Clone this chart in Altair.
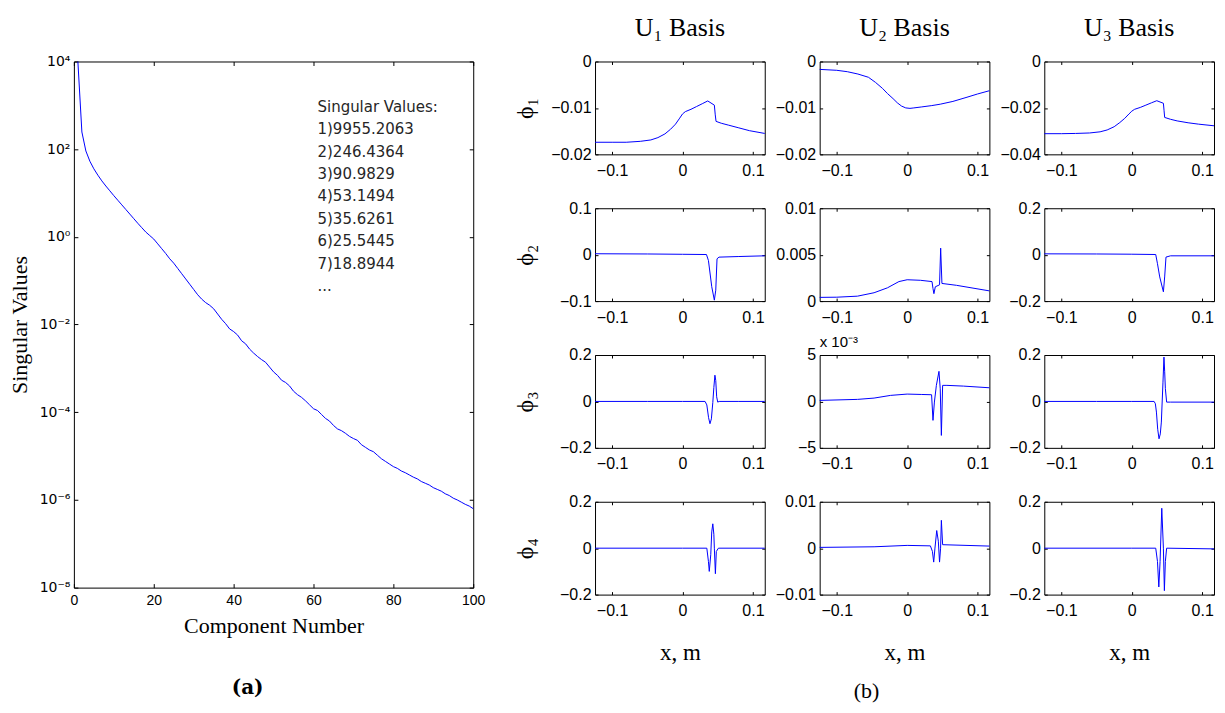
import math
import altair as alt
import pandas as pd

SANS = "Liberation Sans"
SERIF = "Liberation Serif"
BLUE = "#0000ff"

# ---------------- (a) singular values ----------------
sv_top = [9955.2063, 246.4364, 90.9829, 53.1494, 35.6261, 25.5445, 18.8944]
# components 8..100 (log10 of value)
sv_tail_exp = [
    1.16, 1.05, 0.94, 0.835, 0.73, 0.625, 0.52, 0.415, 0.31, 0.21,
    0.11, 0.03, -0.05, -0.16, -0.27, -0.38, -0.5, -0.6, -0.72, -0.84,
    -0.96, -1.08, -1.2, -1.32, -1.42, -1.5, -1.56, -1.64, -1.76, -1.88,
    -1.98, -2.1, -2.16, -2.24, -2.37, -2.44, -2.56, -2.65, -2.73, -2.8,
    -2.86, -2.97, -3.08, -3.16, -3.27, -3.32, -3.4, -3.52, -3.6, -3.66,
    -3.74, -3.83, -3.92, -3.96, -4.05, -4.14, -4.2, -4.3, -4.38, -4.42,
    -4.48, -4.55, -4.6, -4.64, -4.74, -4.8, -4.86, -4.9, -4.98, -5.06,
    -5.12, -5.18, -5.24, -5.28, -5.34, -5.38, -5.43, -5.48, -5.52, -5.58,
    -5.62, -5.66, -5.72, -5.76, -5.8, -5.86, -5.9, -5.96, -6.0, -6.05,
    -6.1, -6.14, -6.2,
]
sv_x_ticks = [0, 20, 40, 60, 80, 100]
sv_y_ticks = [1e-8, 1e-6, 1e-4, 1e-2, 1e0, 1e2, 1e4]
sv_y_labels = ["10⁻⁸", "10⁻⁶", "10⁻⁴", "10⁻²", "10⁰", "10²", "10⁴"]

# ---------------- (b) basis functions ----------------
x_ticks = [-0.1, 0.0, 0.1]
XDOM = [-0.1243, 0.1168]
col_titles = ["U₁ Basis", "U₂ Basis", "U₃ Basis"]
row_titles = ["ϕ₁", "ϕ₂", "ϕ₃", "ϕ₄"]

phi1_u1_x = [-0.1243, -0.1, -0.08, -0.06, -0.045, -0.035, -0.025, -0.017, -0.01, -0.004, 0.0, 0.004,
             0.012, 0.02, 0.028, 0.0358, 0.0452, 0.0465, 0.0476, 0.055, 0.065, 0.08, 0.095, 0.1168]
phi1_u1_y = [-0.0174, -0.0174, -0.0174, -0.0172, -0.0169, -0.0164, -0.0156, -0.0146, -0.0135, -0.0122, -0.0113, -0.0108,
             -0.0103, -0.0097, -0.0091, -0.0085, -0.0094, -0.0115, -0.0129, -0.0133, -0.0137, -0.0143, -0.0149, -0.0155]

phi1_u2_x = [-0.1243, -0.1, -0.085, -0.07, -0.055, -0.045, -0.035, -0.028, -0.02, -0.014, -0.008, -0.002,
             0.004, 0.0095, 0.02, 0.035, 0.047, 0.065, 0.085, 0.1, 0.1168]
phi1_u2_y = [-0.0017, -0.0019, -0.0022, -0.0027, -0.0034, -0.0045, -0.0058, -0.0069, -0.0080, -0.0089, -0.0096, -0.0100,
             -0.0101, -0.0100, -0.0098, -0.0095, -0.0092, -0.0086, -0.0077, -0.0070, -0.0063]

phi1_u3_x = [-0.1243, -0.1, -0.08, -0.06, -0.045, -0.035, -0.025, -0.017, -0.01, -0.004, 0.0, 0.004,
             0.012, 0.02, 0.028, 0.0355, 0.0449, 0.0458, 0.0467, 0.055, 0.0645, 0.08, 0.095, 0.1168]
phi1_u3_y = [-0.0311, -0.0311, -0.031, -0.0308, -0.0303, -0.0295, -0.0281, -0.0263, -0.0245, -0.0226, -0.0214, -0.0206,
             -0.0198, -0.0188, -0.0178, -0.0169, -0.018, -0.021, -0.0241, -0.0249, -0.0256, -0.0264, -0.027, -0.0277]

phi2_u1_x = [-0.1243, -0.05, 0.0, 0.034, 0.0368, 0.0415, 0.0452, 0.0472, 0.049, 0.0518, 0.08, 0.1168]
phi2_u1_y = [0.002, 0.0015, 0.0008, 0.0003, -0.0125, -0.069, -0.098, -0.0765, -0.0089, -0.0053, -0.004, -0.0025]

phi2_u2_x = [-0.1243, -0.1, -0.0706, -0.047, -0.028, -0.0117, 0.0, 0.0188, 0.0353, 0.0367, 0.038, 0.04,
             0.046, 0.0476, 0.0494, 0.07, 0.1168]
phi2_u2_y = [0.0004, 0.00042, 0.00053, 0.0009, 0.00143, 0.0021, 0.0023, 0.00224, 0.0021, 0.00135, 0.0008, 0.00154,
             0.00175, 0.0057, 0.0019, 0.0017, 0.0011]

phi2_u3_x = [-0.1243, -0.05, 0.0, 0.034, 0.0365, 0.0397, 0.0449, 0.0467, 0.0486, 0.055, 0.1168]
phi2_u3_y = [0.0036, 0.003, 0.002, 0.0007, -0.039, -0.096, -0.16, -0.096, -0.0105, -0.005, -0.005]

phi3_u1_x = [-0.1243, -0.05, 0.0, 0.032, 0.0345, 0.037, 0.039, 0.041, 0.043, 0.0445, 0.046, 0.0472,
             0.0485, 0.05, 0.052, 0.08, 0.1168]
phi3_u1_y = [0.0, 0.0, 0.0, 0.0, -0.015, -0.07, -0.096, -0.075, -0.005, 0.06, 0.113, 0.09,
             0.02, -0.003, 0.0, 0.0, 0.0]

phi3_u2_x = [-0.1243, -0.0706, -0.047, -0.0235, 0.0, 0.02, 0.0347, 0.0367, 0.0387, 0.0415, 0.0452, 0.047,
             0.0486, 0.0504, 0.0565, 0.08, 0.1168]
phi3_u2_y = [0.00011, 0.00022, 0.00036, 0.00065, 0.00079, 0.00075, 0.00072, -0.00204, -0.00007, 0.00173, 0.00324, 0.00136,
             -0.00366, 0.00173, 0.00173, 0.00165, 0.00147]

phi3_u3_x = [-0.1243, -0.05, 0.0, 0.0317, 0.0335, 0.035, 0.0368, 0.0387, 0.0405, 0.042, 0.0443, 0.0457,
             0.0467, 0.0477, 0.0495, 0.055, 0.1168]
phi3_u3_y = [0.0, 0.0, 0.0, 0.0, -0.01, -0.046, -0.12, -0.161, -0.14, -0.089, 0.083, 0.191,
             0.13, 0.055, -0.003, -0.003, -0.003]

phi4_u1_x = [-0.1243, 0.0, 0.0345, 0.0368, 0.038, 0.0401, 0.0415, 0.043, 0.0445, 0.0452, 0.0467, 0.048, 0.051, 0.1168]
phi4_u1_y = [0.0, 0.0, 0.0, -0.057, -0.1, -0.028, 0.07, 0.105, 0.06, 0.0, -0.11, -0.014, 0.0, 0.0]

phi4_u2_x = [-0.1243, -0.047, 0.0, 0.033, 0.0359, 0.0377, 0.0395, 0.042, 0.0443, 0.046, 0.0475, 0.0486, 0.0504, 0.1168]
phi4_u2_y = [0.00017, 0.0003, 0.0006, 0.0005, -0.0007, -0.003, 0.00002, 0.0038, 0.0015, -0.003, 0.0, 0.006, 0.00075, 0.00045]

phi4_u3_x = [-0.1243, 0.0, 0.034, 0.0365, 0.0384, 0.0402, 0.0426, 0.0449, 0.0463, 0.0477, 0.0495, 0.1168]
phi4_u3_y = [0.0, 0.0, 0.0, -0.057, -0.167, -0.057, 0.172, 0.0, -0.183, -0.057, 0.0, -0.003]

panels = [
    [(phi1_u1_x, phi1_u1_y, [-0.02, 0], [-0.02, -0.01, 0]),
     (phi1_u2_x, phi1_u2_y, [-0.02, 0], [-0.02, -0.01, 0]),
     (phi1_u3_x, phi1_u3_y, [-0.04, 0], [-0.04, -0.02, 0])],
    [(phi2_u1_x, phi2_u1_y, [-0.1, 0.1], [-0.1, 0, 0.1]),
     (phi2_u2_x, phi2_u2_y, [0, 0.01], [0, 0.005, 0.01]),
     (phi2_u3_x, phi2_u3_y, [-0.2, 0.2], [-0.2, 0, 0.2])],
    [(phi3_u1_x, phi3_u1_y, [-0.2, 0.2], [-0.2, 0, 0.2]),
     (phi3_u2_x, phi3_u2_y, [-0.005, 0.005], [-0.005, 0, 0.005]),
     (phi3_u3_x, phi3_u3_y, [-0.2, 0.2], [-0.2, 0, 0.2])],
    [(phi4_u1_x, phi4_u1_y, [-0.2, 0.2], [-0.2, 0, 0.2]),
     (phi4_u2_x, phi4_u2_y, [-0.01, 0.01], [-0.01, 0, 0.01]),
     (phi4_u3_x, phi4_u3_y, [-0.2, 0.2], [-0.2, 0, 0.2])],
]

PW, PH = 170, 93
COL_GAP, ROW_GAP = 55, 54
LW, LH = 400, 527


def tick_axis(orient, values, size):
    return alt.Axis(orient=orient, values=values, labels=False, domain=False, grid=False,
                    ticks=True, tickSize=size, tickColor="black", tickWidth=1,
                    offset=-size, title=None, minExtent=0, maxExtent=0)


def label_layer(text, x, y, font, size, weight="normal", baseline="middle", align="center"):
    return alt.Chart(pd.DataFrame({"t": [text]})).mark_text(
        align=align, baseline=baseline, font=font, fontSize=size, fontWeight=weight, color="black"
    ).encode(x=alt.value(x), y=alt.value(y), text="t:N")


def make_panel(xs, ys, ydom, yticks, r, c):
    df = pd.DataFrame({"x": xs, "y": ys})
    xscale = alt.Scale(domain=XDOM, nice=False, zero=False)
    yscale = alt.Scale(domain=ydom, nice=False, zero=False)
    xa = dict(orient="bottom", values=x_ticks, format="~g", grid=False, domain=False,
              ticks=True, tickSize=3, tickColor="black", tickWidth=1, offset=-3,
              labelFont=SANS, labelFontSize=16, labelColor="black", labelPadding=8,
              labelFlush=False, labelOverlap=False, minExtent=0)
    if r == 3:
        xa.update(title="x, m", titleFont=SERIF, titleFontSize=23, titleFontWeight="normal",
                  titleColor="black", titleX=PW / 2, titleY=61.5, titleAlign="center",
                  titleBaseline="middle")
    else:
        xa["title"] = None
    ya = dict(orient="left", values=yticks, grid=False, domain=False,
              ticks=True, tickSize=3, tickColor="black", tickWidth=1, offset=-3,
              labelFont=SANS, labelFontSize=16, labelColor="black", labelPadding=4,
              labelFlush=False, labelOverlap=False, minExtent=0)
    scaled = (r == 2 and c == 1)
    if scaled:
        ya["labelExpr"] = "format(datum.value*1000, '~g')"
    else:
        ya["format"] = "~g"
    if c == 0:
        ya.update(title=row_titles[r], titleFont=SERIF, titleFontSize=24, titleFontWeight="normal",
                  titleColor="black", titleAngle=270, titleX=-73, titleY=PH / 2,
                  titleAlign="center", titleBaseline="middle")
    else:
        ya["title"] = None
    line = alt.Chart(df).mark_line(color=BLUE, strokeWidth=1).encode(
        x=alt.X("x:Q", scale=xscale, axis=alt.Axis(**xa)),
        y=alt.Y("y:Q", scale=yscale, axis=alt.Axis(**ya)),
    )
    tk = alt.Chart(df).mark_line(strokeOpacity=0).encode(
        x=alt.X("x:Q", scale=xscale, axis=tick_axis("top", x_ticks, 3)),
        y=alt.Y("y:Q", scale=yscale, axis=tick_axis("right", yticks, 3)),
    )
    layers = [line, tk]
    if scaled:
        layers.append(label_layer("x 10⁻³", 0, -13, SANS, 15, align="left"))
    if r == 0:
        layers.append(label_layer(col_titles[c], PW / 2, -26, SERIF, 26, baseline="alphabetic"))
    if r == 3 and c == 1:
        layers.append(label_layer("(b)", 47, PH + 97, SERIF, 22))
    ch = alt.layer(*layers).resolve_axis(x="independent", y="independent")
    return ch.properties(width=PW, height=PH)


cells = []
for r, row in enumerate(panels):
    for c, (xs, ys, yd, yt) in enumerate(row):
        cells.append(make_panel(xs, ys, yd, yt, r, c))

right = alt.concat(*cells, columns=3, spacing={"row": ROW_GAP, "column": COL_GAP}, bounds="flush")

# ---------------- left chart ----------------
sv_values = sv_top + [10 ** e for e in sv_tail_exp]
df_sv = pd.DataFrame({"k": list(range(1, len(sv_values) + 1)), "sv": sv_values})

lx = alt.Scale(domain=[0, 100], nice=False, zero=False)
ly = alt.Scale(type="log", domain=[1e-8, 1e4], nice=False)

ylab_expr = " : ".join(
    f"abs(log(datum.value)/LN10 - ({round(math.log10(v))})) < 0.5 ? '{lab}'"
    for v, lab in zip(sv_y_ticks, sv_y_labels)
) + " : ''"

sv_line = alt.Chart(df_sv).mark_line(color=BLUE, strokeWidth=1).encode(
    x=alt.X("k:Q", scale=lx, axis=alt.Axis(
        orient="bottom", values=sv_x_ticks, format="d", grid=False, domain=False,
        ticks=True, tickSize=4, tickColor="black", offset=-4,
        labelFont=SANS, labelFontSize=14, labelColor="black", labelPadding=6,
        labelFlush=False, labelOverlap=False, minExtent=0,
        title="Component Number", titleFont=SERIF, titleFontSize=22, titleFontWeight="normal",
        titleColor="black", titleX=LW / 2, titleY=41.5, titleAlign="center", titleBaseline="middle")),
    y=alt.Y("sv:Q", scale=ly, axis=alt.Axis(
        orient="left", values=sv_y_ticks, labelExpr=ylab_expr, grid=False, domain=False,
        ticks=True, tickSize=4, tickColor="black", offset=-4,
        labelFont="DejaVu Sans", labelFontSize=14, labelColor="black", labelPadding=4,
        labelFlush=False, labelOverlap=False, minExtent=0,
        title="Singular Values", titleFont=SERIF, titleFontSize=22, titleFontWeight="normal",
        titleColor="black", titleAngle=270, titleX=-58, titleY=LH / 2, titleAlign="center",
        titleBaseline="middle")),
)
sv_ticks = alt.Chart(df_sv).mark_line(strokeOpacity=0).encode(
    x=alt.X("k:Q", scale=lx, axis=tick_axis("top", sv_x_ticks, 4)),
    y=alt.Y("sv:Q", scale=ly, axis=tick_axis("right", sv_y_ticks, 4)),
)
note_text = "\n".join(["Singular Values:"] + [f"{i + 1}){v:.4f}" for i, v in enumerate(sv_top)] + ["..."])
df_note = pd.DataFrame({"k": [61.0], "sv": [1350.0], "t": [note_text]})
sv_note = alt.Chart(df_note).mark_text(
    align="left", baseline="top", font="DejaVu Sans", fontSize=15, lineBreak="\n",
    lineHeight=22.5, color="#262626"
).encode(
    x=alt.X("k:Q", scale=lx, axis=None),
    y=alt.Y("sv:Q", scale=ly, axis=None),
    text="t:N",
)
cap_a = label_layer("(a)", 174, LH + 101, "DejaVu Serif", 20, weight="bold")

left = alt.layer(sv_line, sv_ticks, sv_note, cap_a).resolve_axis(
    x="independent", y="independent"
).properties(width=LW, height=LH)

chart = alt.hconcat(left, right, spacing=122, bounds="flush").configure_view(
    stroke="black", strokeWidth=1
).properties(
    padding={"left": 0, "top": 5, "right": 0, "bottom": 0},
    background="white",
)

chart.save("out.html", embed_options={"renderer": "svg", "actions": False})
